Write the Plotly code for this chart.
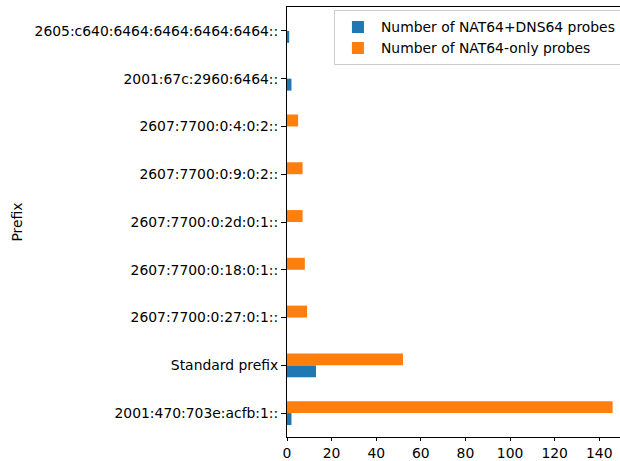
import plotly.graph_objects as go

prefixes = [
    "2001:470:703e:acfb:1::",
    "Standard prefix",
    "2607:7700:0:27:0:1::",
    "2607:7700:0:18:0:1::",
    "2607:7700:0:2d:0:1::",
    "2607:7700:0:9:0:2::",
    "2607:7700:0:4:0:2::",
    "2001:67c:2960:6464::",
    "2605:c640:6464:6464:6464:6464::",
]
nat64_dns64 = [2, 13, 0, 0, 0, 0, 0, 2, 1]
nat64_only = [146, 52, 9, 8, 7, 7, 5, 0, 0]
x_ticks = [0, 20, 40, 60, 80, 100, 120, 140]

FONT = "DejaVu Sans"
FS = 13.9

fig = go.Figure()
fig.add_trace(go.Bar(y=prefixes, x=nat64_dns64, orientation="h",
                     name="Number of NAT64+DNS64 probes",
                     marker=dict(color="#1f77b4", line=dict(width=0))))
fig.add_trace(go.Bar(y=prefixes, x=nat64_only, orientation="h",
                     name="Number of NAT64-only probes",
                     marker=dict(color="#ff7f0e", line=dict(width=0))))

fig.update_layout(
    width=620, height=461,
    margin=dict(l=287, r=0, t=7, b=24, pad=0, autoexpand=False),
    paper_bgcolor="white", plot_bgcolor="white",
    barmode="group", bargap=0.5, bargroupgap=0,
    font=dict(family=FONT, size=FS, color="black"),
    showlegend=True,
    legend=dict(x=0.141, y=0.992, xanchor="left", yanchor="top",
                bordercolor="#cccccc", borderwidth=1, bgcolor="white",
                font=dict(family=FONT, size=FS), traceorder="normal",
                tracegroupgap=0, itemwidth=36),
    xaxis=dict(range=[0, 149.3], tickvals=x_ticks, showgrid=False, zeroline=False,
               showline=True, linecolor="black", linewidth=1, mirror=True,
               ticks="outside", ticklen=3, tickcolor="black",
               tickfont=dict(family=FONT, size=FS)),
    yaxis=dict(type="category", range=[-0.5, 8.5], showgrid=False, zeroline=False,
               showline=True, linecolor="black", linewidth=1,
               ticks="outside", ticklen=5, tickcolor="black",
               tickfont=dict(family=FONT, size=FS),
               title=dict(text="Prefix", font=dict(family=FONT, size=FS), standoff=8)),
)

fig.write_html("out.html")
